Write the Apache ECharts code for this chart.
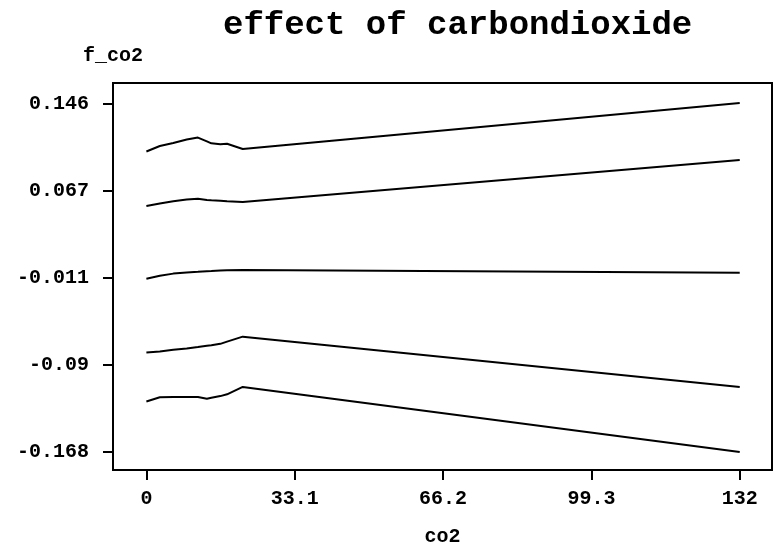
<!DOCTYPE html>
<html>
<head>
<meta charset="utf-8">
<script src="https://cdn.jsdelivr.net/npm/echarts@6/dist/echarts.min.js"></script>
<style>
html,body{margin:0;padding:0;background:#fff;}
#chart{width:774px;height:552px;}
</style>
</head>
<body>
<div id="chart"></div>
<script>
// co2 values (x)
var co2 = [0, 3, 6, 9, 11.5, 13.5, 14.5, 16.5, 18, 21.5, 132.4];
// five curves: upper outer band, upper inner band, estimate, lower inner band, lower outer band
var upperOuter = [0.1028, 0.1077, 0.1104, 0.1135, 0.1153, 0.1119, 0.1101, 0.1092, 0.1097, 0.1050, 0.1465];
var upperInner = [0.0536, 0.0559, 0.0579, 0.0594, 0.0602, 0.0591, 0.0588, 0.0584, 0.0579, 0.0572, 0.0951];
var estimate   = [-0.0119, -0.0092, -0.0073, -0.0062, -0.0056, -0.0051, -0.0049, -0.0044, -0.0042, -0.0040, -0.0065];
var lowerInner = [-0.0783, -0.0774, -0.0760, -0.0748, -0.0735, -0.0723, -0.0719, -0.0706, -0.0686, -0.0641, -0.1096];
var lowerOuter = [-0.1226, -0.1188, -0.1186, -0.1186, -0.1186, -0.1201, -0.1192, -0.1177, -0.1161, -0.1094, -0.1680];

var xTickValues = [0, 33.1, 66.2, 99.3, 132.4];
var xTickLabels = ['0', '33.1', '66.2', '99.3', '132'];
var yTickValues = [-0.168, -0.0895, -0.011, 0.0675, 0.146];
var yTickLabels = ['-0.168', '-0.09', '-0.011', '0.067', '0.146'];

function pairs(ys) { return co2.map(function (x, i) { return [x, ys[i]]; }); }
function labelFor(vals, labs) {
  return function (v) {
    for (var i = 0; i < vals.length; i++) if (Math.abs(v - vals[i]) < 1e-6) return labs[i];
    return '';
  };
}

var FONT = '"Liberation Mono", "DejaVu Sans Mono", monospace';
var chart = echarts.init(document.getElementById('chart'), null, {renderer: 'canvas'});
var lineStyle = {color: '#000', width: 2};
var seriesList = [upperOuter, upperInner, estimate, lowerInner, lowerOuter].map(function (d) {
  return {type: 'line', data: pairs(d), showSymbol: false, symbol: 'none', lineStyle: lineStyle, silent: true};
});

chart.setOption({
  animation: false,
  backgroundColor: '#fff',
  title: {
    text: 'effect of carbondioxide',
    left: 218,
    top: 3,
    textStyle: {fontFamily: FONT, fontWeight: 'bold', fontSize: 34, color: '#000'}
  },
  graphic: [{
    type: 'text',
    x: 113, y: 56,
    style: {text: 'f_co2', fontFamily: FONT, fontWeight: 'bold', fontSize: 20, fill: '#000',
      textAlign: 'center', textVerticalAlign: 'middle', align: 'center', verticalAlign: 'middle'}
  }],
  grid: {left: 113, right: 2, top: 83, bottom: 80, show: true, borderColor: '#000', borderWidth: 2, containLabel: false},
  xAxis: {
    type: 'value',
    min: -7.45,
    max: 139.6,
    name: 'co2',
    nameLocation: 'middle',
    nameGap: 57,
    nameTextStyle: {fontFamily: FONT, fontWeight: 'bold', fontSize: 20, color: '#000'},
    axisLine: {show: true, onZero: false, lineStyle: {color: '#000', width: 2}},
    axisTick: {show: true, length: 10, lineStyle: {color: '#000', width: 2}, customValues: xTickValues},
    axisLabel: {show: true, margin: 19, fontFamily: FONT, fontWeight: 'bold', fontSize: 20, color: '#000',
      customValues: xTickValues, formatter: labelFor(xTickValues, xTickLabels)},
    splitLine: {show: false}
  },
  yAxis: {
    type: 'value',
    min: -0.1843,
    max: 0.1645,
    axisLine: {show: true, onZero: false, lineStyle: {color: '#000', width: 2}},
    axisTick: {show: true, length: 10, lineStyle: {color: '#000', width: 2}, customValues: yTickValues},
    axisLabel: {show: true, margin: 24, fontFamily: FONT, fontWeight: 'bold', fontSize: 20, color: '#000',
      customValues: yTickValues, formatter: labelFor(yTickValues, yTickLabels)},
    splitLine: {show: false}
  },
  series: seriesList
});
</script>
</body>
</html>
